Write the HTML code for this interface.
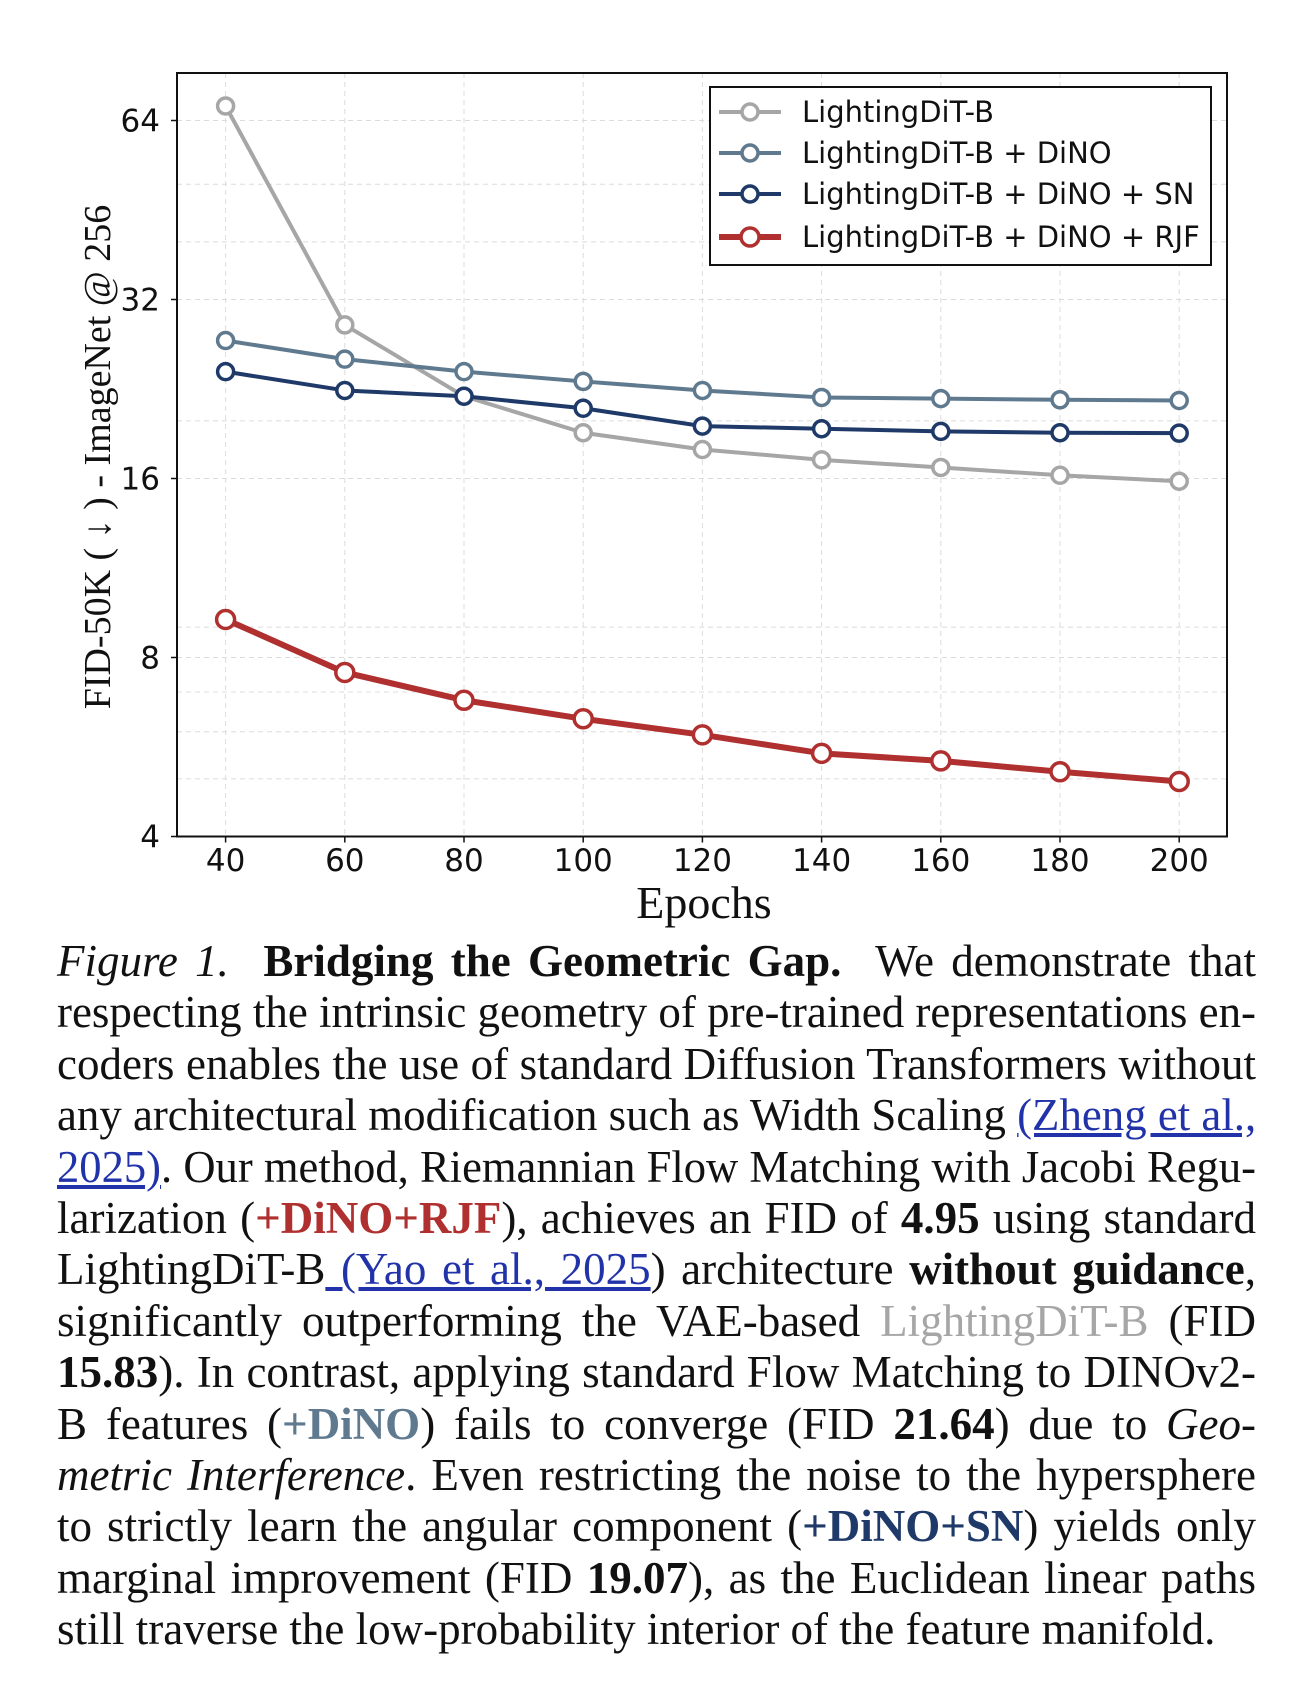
<!DOCTYPE html>
<html><head><meta charset="utf-8"><style>
html,body{margin:0;padding:0;background:#fff;}
body{width:1306px;height:1700px;position:relative;overflow:hidden;}
#cap{position:absolute;left:57px;top:936px;width:1199px;font-family:"Liberation Serif",serif;font-size:45px;line-height:51.4px;color:#111;}
#cap div{text-align:justify;text-align-last:justify;white-space:nowrap;height:51.4px;transform-origin:0 50%;}
#cap div.last{text-align-last:left;}
a{color:#2233aa;text-decoration:underline;}
</style></head><body>
<svg id="chart" width="1306" height="930" style="position:absolute;left:0;top:0" font-family="DejaVu Sans, sans-serif"></svg>
<div id="cap">
<div><i>Figure 1.</i>&nbsp; <b>Bridging the Geometric Gap.</b>&nbsp; We demonstrate that</div>
<div>respecting the intrinsic geometry of pre-trained representations en-</div>
<div>coders enables the use of standard Diffusion Transformers without</div>
<div>any architectural modification such as Width Scaling <a>(Zheng et al.,</a></div>
<div><a>2025)</a>. Our method, Riemannian Flow Matching with Jacobi Regu-</div>
<div>larization (<b style="color:#b03030">+DiNO+RJF</b>), achieves an FID of <b>4.95</b> using standard</div>
<div>LightingDiT-B<a> (Yao et al., 2025</a>) architecture <b>without guidance</b>,</div>
<div>significantly outperforming the VAE-based <span style="color:#a6a6a6">LightingDiT-B</span> (FID</div>
<div><b>15.83</b>). In contrast, applying standard Flow Matching to DINOv2-</div>
<div>B features (<b style="color:#5f7a8f">+DiNO</b>) fails to converge (FID <b>21.64</b>) due to <i>Geo-</i></div>
<div><i>metric Interference</i>. Even restricting the noise to the hypersphere</div>
<div>to strictly learn the angular component (<b style="color:#1f3a68">+DiNO+SN</b>) yields only</div>
<div>marginal improvement (FID <b>19.07</b>), as the Euclidean linear paths</div>
<div class="last">still traverse the low-probability interior of the feature manifold.</div>
</div>
<script>
const epochs=[40,60,80,100,120,140,160,180,200];
const seriesNames=["LightingDiT-B","LightingDiT-B + DiNO","LightingDiT-B + DiNO + SN","LightingDiT-B + DiNO + RJF"];
const valsBase=[67.7,29,22,19.1,17.9,17.2,16.7,16.2,15.83];
const valsDino=[27.3,25.4,24.2,23.3,22.5,21.9,21.8,21.7,21.64];
const valsSN=[24.2,22.5,22,21,19.6,19.4,19.2,19.1,19.07];
const valsRJF=[9.27,7.55,6.78,6.31,5.93,5.52,5.36,5.14,4.95];
const yTicks=[4,8,16,32,64];
const yMinor=[5,6,7,9,20,40,50];
const ns="http://www.w3.org/2000/svg";
const svg=document.getElementById('chart');
const L=177,R=1227,T=73,B=836.5;
const x=e=>225.6+(e-40)/20*119.2;
const y=v=>B-179*Math.log2(v/4);
function mk(tag,at,parent){const e=document.createElementNS(ns,tag);for(const k in at)e.setAttribute(k,at[k]);(parent||svg).appendChild(e);return e;}
yMinor.concat(yTicks).forEach(v=>{const g=mk('line',{x1:L,x2:R,y1:y(v),y2:y(v),stroke:'#dcdcdc','stroke-width':1,'stroke-dasharray':'5,4'});

});
epochs.forEach(e=>{const g=mk('line',{x1:x(e),x2:x(e),y1:T,y2:B,stroke:'#dcdcdc','stroke-width':1,'stroke-dasharray':'5,4'});

});
yTicks.forEach(v=>{const t=mk('text',{x:160,y:y(v)+11,'text-anchor':'end','font-size':31,fill:'#111'});t.textContent=v;


const k=mk('line',{x1:L-6,x2:L,y1:y(v),y2:y(v),stroke:'#111','stroke-width':1.5});

});
epochs.forEach(e=>{const t=mk('text',{x:x(e),y:871,'text-anchor':'middle','font-size':31,fill:'#111'});t.textContent=e;


const k=mk('line',{x1:x(e),x2:x(e),y1:B,y2:B+6,stroke:'#111','stroke-width':1.5});

});
const xt=mk('text',{x:704,y:918,'text-anchor':'middle','font-size':46,'font-family':'Liberation Serif, serif',fill:'#111'});xt.textContent='Epochs';


const yt=mk('text',{x:0,y:0,'text-anchor':'middle','font-size':38,'font-family':'Liberation Serif, serif',fill:'#111',transform:'translate(110,457) rotate(-90)'});yt.textContent='FID-50K ( \u2193 ) - ImageNet @ 256';


const all=[valsBase,valsDino,valsSN,valsRJF];
const colors=['#a6a6a6','#5f7a8f','#1f3a68','#b03030'];
const widths=[4,4,4,6];
const rads=[8,8,8,9];
const keys=['base','dino','sn','rjf'];
all.forEach((vals,i)=>{
const g=mk('g',{});


const p=mk('polyline',{points:vals.map((v,j)=>x(epochs[j])+','+y(v)).join(' '),fill:'none',stroke:colors[i],'stroke-width':widths[i],'stroke-linejoin':'round'},g);


vals.forEach((v,j)=>{const c=mk('circle',{cx:x(epochs[j]),cy:y(v),r:rads[i],fill:'#fff',stroke:colors[i],'stroke-width':3.5},g);

});
});
const f=mk('rect',{x:L,y:T,width:R-L,height:B-T,fill:'none',stroke:'#111','stroke-width':2});


const lg=mk('g',{});


mk('rect',{x:710,y:87,width:501,height:178,fill:'#fff',stroke:'#111','stroke-width':2},lg);
const rows=[112,153,194,237];
seriesNames.forEach((n,i)=>{
const e=mk('g',{},lg);


mk('line',{x1:719,x2:781,y1:rows[i],y2:rows[i],stroke:colors[i],'stroke-width':widths[i]},e);
mk('circle',{cx:750,cy:rows[i],r:rads[i],fill:'#fff',stroke:colors[i],'stroke-width':3.5},e);
const t=mk('text',{x:802,y:rows[i]+10,'font-size':29,fill:'#111'},e);t.textContent=n;
});
// fit caption lines that overflow
document.querySelectorAll('#cap div').forEach(d=>{const w=d.scrollWidth;if(w>1199){d.style.width=w+'px';d.style.transform='scaleX('+(1199/w)+')';}});
</script>
</body></html>
